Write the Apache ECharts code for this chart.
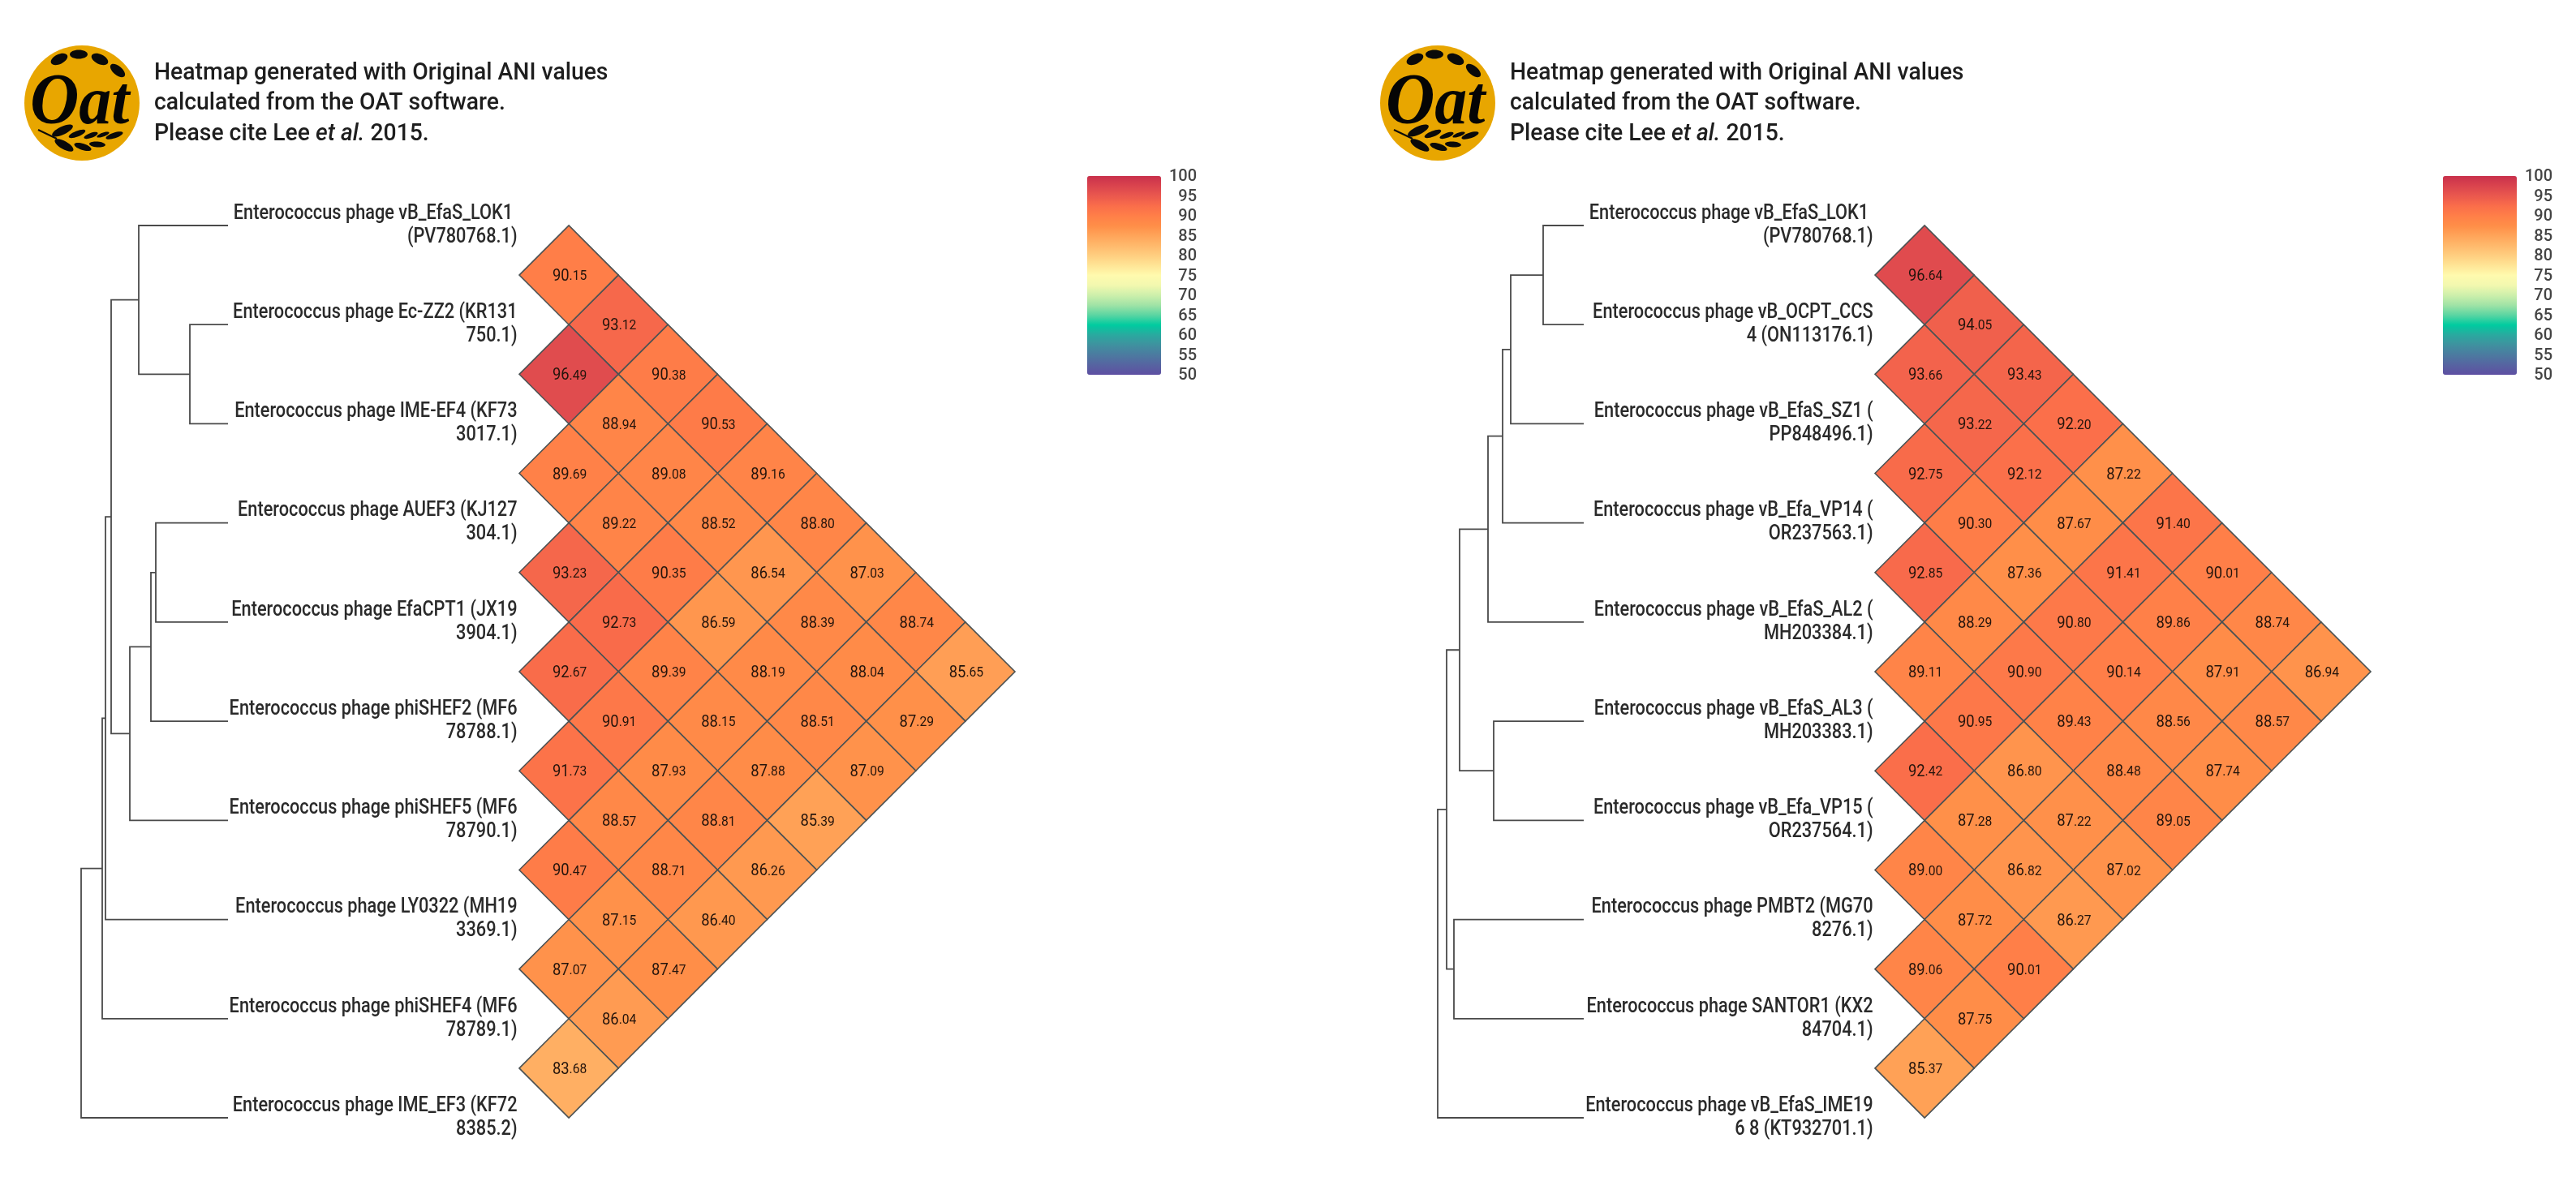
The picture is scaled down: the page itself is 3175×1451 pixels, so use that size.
<!DOCTYPE html>
<html>
<head>
<meta charset="utf-8">
<style>html,body{margin:0;padding:0;background:#fff}#c{width:3175px;height:1451px}</style>
<script src="https://cdn.jsdelivr.net/npm/echarts@6/dist/echarts.min.js"></script>
</head>
<body>
<div id="c"></div>
<script>
// ---- data ----
const taxaLeft = [
  "Enterococcus phage vB_EfaS_LOK1 \n(PV780768.1)",
  "Enterococcus phage Ec-ZZ2 (KR131\n750.1)",
  "Enterococcus phage IME-EF4 (KF73\n3017.1)",
  "Enterococcus phage AUEF3 (KJ127\n304.1)",
  "Enterococcus phage EfaCPT1 (JX19\n3904.1)",
  "Enterococcus phage phiSHEF2 (MF6\n78788.1)",
  "Enterococcus phage phiSHEF5 (MF6\n78790.1)",
  "Enterococcus phage LY0322 (MH19\n3369.1)",
  "Enterococcus phage phiSHEF4 (MF6\n78789.1)",
  "Enterococcus phage IME_EF3 (KF72\n8385.2)"
];
const taxaRight = [
  "Enterococcus phage vB_EfaS_LOK1 \n(PV780768.1)",
  "Enterococcus phage vB_OCPT_CCS\n4 (ON113176.1)",
  "Enterococcus phage vB_EfaS_SZ1 (\nPP848496.1)",
  "Enterococcus phage vB_Efa_VP14 (\nOR237563.1)",
  "Enterococcus phage vB_EfaS_AL2 (\nMH203384.1)",
  "Enterococcus phage vB_EfaS_AL3 (\nMH203383.1)",
  "Enterococcus phage vB_Efa_VP15 (\nOR237564.1)",
  "Enterococcus phage PMBT2 (MG70\n8276.1)",
  "Enterococcus phage SANTOR1 (KX2\n84704.1)",
  "Enterococcus phage vB_EfaS_IME19\n6 8 (KT932701.1)"
];
// aniX[j-1][i] = ANI between taxon i and taxon j (i < j)
const aniLeft = [
  [90.15],
  [93.12, 96.49],
  [90.38, 88.94, 89.69],
  [90.53, 89.08, 89.22, 93.23],
  [89.16, 88.52, 90.35, 92.73, 92.67],
  [88.80, 86.54, 86.59, 89.39, 90.91, 91.73],
  [87.03, 88.39, 88.19, 88.15, 87.93, 88.57, 90.47],
  [88.74, 88.04, 88.51, 87.88, 88.81, 88.71, 87.15, 87.07],
  [85.65, 87.29, 87.09, 85.39, 86.26, 86.40, 87.47, 86.04, 83.68]
];
const aniRight = [
  [96.64],
  [94.05, 93.66],
  [93.43, 93.22, 92.75],
  [92.20, 92.12, 90.30, 92.85],
  [87.22, 87.67, 87.36, 88.29, 89.11],
  [91.40, 91.41, 90.80, 90.90, 90.95, 92.42],
  [90.01, 89.86, 90.14, 89.43, 86.80, 87.28, 89.00],
  [88.74, 87.91, 88.56, 88.48, 87.22, 86.82, 87.72, 89.06],
  [86.94, 88.57, 87.74, 89.05, 87.02, 86.27, 90.01, 87.75, 85.37]
];
// tree merges: [childA, childB, height]; child >= 0 is a taxon, child < 0 is merge number -(child+1)
const treeLeft = [
  [1, 2, 4.7], [0, -1, 11.0], [3, 4, 8.9], [-3, 5, 9.5], [-4, 6, 12.1],
  [-2, -5, 14.4], [-6, 7, 15.1], [-7, 8, 15.5], [-8, 9, 18.1]
];
const treeRight = [
  [0, 1, 5.0], [-1, 2, 9.0], [-2, 3, 10.0], [-3, 4, 11.8], [5, 6, 11.1],
  [-4, -5, 15.3], [7, 8, 16.0], [-6, -7, 16.9], [-8, 9, 18.0]
];
const scaleTicks = [50, 100, 5];
const scaleColors = ['#5E4FA2','#5664A1','#4C7AA0','#3F919F','#2AA99F','#00CBA0','#5AD5A2','#A0E3A6','#CDEFAB','#F2F8AF',
  '#FFFAAE','#FFE596','#FFCE80','#FFB96C','#FFA459','#FF8E48','#FF7F48','#FA6D4A','#EA584E','#DA444E','#C9304B'];

// ---- layout ----
const panelOffsets = [0, 1671];
const LABEL_SX = 0.87, CELL_SX = 0.92, HEAD_SX = 0.945;

function cellData(ani) {
  const out = [];
  ani.forEach((row, k) => row.forEach((v, i) => {
    const j = k + 1;
    out.push([j - i - 1, (i + j) / 2, v]);
  }));
  return out;
}
function treeData(tree) {
  const nodes = [];
  const out = [];
  const pos = c => c >= 0 ? [0, c] : nodes[-c - 1];
  tree.forEach(m => {
    const a = pos(m[0]), b = pos(m[1]);
    out.push([a[0], a[1], m[2], b[1], b[0]]);
    nodes.push([m[2], (a[1] + b[1]) / 2]);
  });
  return out;
}
function renderCell(params, api) {
  const c = api.value(0), r = api.value(1), v = api.value(2);
  const pts = [[c - 1, r], [c, r - 0.5], [c + 1, r], [c, r + 0.5]].map(p => api.coord(p));
  const ctr = api.coord([c, r]);
  const parts = v.toFixed(2).split('.');
  return {
    type: 'group',
    children: [
      { type: 'polygon', shape: { points: pts },
        style: { fill: api.visual('color'), stroke: '#4c5253', lineWidth: 1.6 } },
      { type: 'text', x: ctr[0] + 1, y: ctr[1] + 2, scaleX: CELL_SX, z2: 5,
        style: { text: '{a|' + parts[0] + '}{b|.' + parts[1] + '}', align: 'center', verticalAlign: 'middle',
          fill: '#24140c',
          rich: { a: { fontFamily: 'Roboto', fontSize: 20, fill: '#24140c' },
                  b: { fontFamily: 'Roboto', fontSize: 17, fill: '#24140c' } } } }
    ]
  };
}
function renderTree(params, api) {
  const a = api.coord([api.value(0), api.value(1)]);
  const m1 = api.coord([api.value(2), api.value(1)]);
  const m2 = api.coord([api.value(2), api.value(3)]);
  const b = api.coord([api.value(4), api.value(3)]);
  return { type: 'polyline', shape: { points: [a, m1, m2, b] },
    style: { fill: 'none', stroke: '#4a4a4a', lineWidth: 1.8 } };
}
function taxaRenderer(names) {
  return function (params, api) {
    const k = api.value(0);
    const p = api.coord([-1.04, k]);
    return { type: 'text', x: p[0], y: p[1], scaleX: LABEL_SX,
      style: { text: names[k], align: 'right', verticalAlign: 'middle', fontFamily: 'Roboto', fontWeight: 500, fontSize: 25,
        lineHeight: 29, fill: '#2a2a2a' } };
  };
}

// ---- logo + header (decoration) ----
const logoLeaves = [
  [73,73,11,6,25],[97,67,11,5.5,0],[123,73,11,6,-25],[145,87,11,5.5,-40],
  [77,161,14,5,25],[95,165,11,3.5,22],[112,167,9,3,20],[127,166,8,2.5,20],[141,167,11,3.5,18],
  [79,179,13,5,-30],[102,181,11,4,-18],[120,178,10,3.5,-5]
];
function headerGraphics(dx) {
  const g = [];
  g.push({ type: 'ellipse', shape: { cx: 101 + dx, cy: 127, rx: 71, ry: 71 }, style: { fill: '#E8A600' } });
  logoLeaves.forEach(l => g.push({ type: 'ellipse', x: l[0] + dx, y: l[1], rotation: l[4] * Math.PI / 180,
    shape: { cx: 0, cy: 0, rx: l[2], ry: l[3] }, style: { fill: '#0a0a0a' } }));
  g.push({ type: 'line', shape: { x1: 47 + dx, y1: 160, x2: 70 + dx, y2: 171 }, style: { stroke: '#0a0a0a', lineWidth: 2 } });
  g.push({ type: 'text', x: 37 + dx, y: 172, scaleX: 0.95, style: {
    text: '{o|O}{t|at}', align: 'left', verticalAlign: 'bottom', fill: '#050505',
    rich: { o: { fontFamily: 'Liberation Serif', fontStyle: 'italic', fontWeight: 'bold', fontSize: 88, fill: '#050505', verticalAlign: 'bottom' },
            t: { fontFamily: 'Liberation Serif', fontStyle: 'italic', fontWeight: 'bold', fontSize: 84, fill: '#050505', verticalAlign: 'bottom' } } } });
  const lines = ['Heatmap generated with Original ANI values', 'calculated from the OAT software.', 'Please cite Lee {i|et al.} 2015.'];
  lines.forEach((t, n) => g.push({ type: 'text', x: 190 + dx, y: 90 + n * 37.5, scaleX: HEAD_SX, style: {
    text: t, align: 'left', verticalAlign: 'middle', fontFamily: 'Roboto', fontWeight: 500, fontSize: 30, fill: '#1e1e1e',
    rich: { i: { fontFamily: 'Roboto', fontStyle: 'italic', fontWeight: 500, fontSize: 30, fill: '#1e1e1e' } } } }));
  return g;
}

// ---- option ----
const grids = [], xAxes = [], yAxes = [], seriesList = [], visualMaps = [];
const treeTop = 278, treeH = 1100;
[[taxaLeft, aniLeft, treeLeft], [taxaRight, aniRight, treeRight]].forEach((p, n) => {
  const dx = panelOffsets[n];
  const base = grids.length;
  // tree grid
  grids.push({ left: 81 + dx, top: treeTop, width: 200, height: treeH });
  xAxes.push({ type: 'value', gridIndex: base, min: 0, max: 20, inverse: true, show: false });
  yAxes.push({ type: 'value', gridIndex: base, min: 0, max: 9, inverse: true, show: false });
  // heat grid
  grids.push({ left: 640 + dx, top: treeTop, width: 611, height: treeH });
  xAxes.push({ type: 'value', gridIndex: base + 1, min: -1, max: 9, show: false });
  yAxes.push({ type: 'value', gridIndex: base + 1, min: 0, max: 9, inverse: true, show: false });
  // colour-bar tick axis
  grids.push({ left: 1340 + dx, top: 218, width: 91, height: 245 });
  xAxes.push({ type: 'value', gridIndex: base + 2, min: 0, max: 1, show: false });
  yAxes.push({ type: 'value', gridIndex: base + 2, min: scaleTicks[0], max: scaleTicks[1], interval: scaleTicks[2],
    position: 'right', axisLine: { show: false }, axisTick: { show: false }, splitLine: { show: false },
    axisLabel: { show: true, align: 'right', margin: 44, fontFamily: 'Roboto', fontWeight: 500, fontSize: 20, color: '#444', showMinLabel: true, showMaxLabel: true } });

  seriesList.push({ type: 'custom', name: 'tree' + n, xAxisIndex: base, yAxisIndex: base, silent: true, clip: false,
    coordinateSystem: 'cartesian2d', data: treeData(p[2]), renderItem: renderTree, animation: false });
  const cellIdx = seriesList.length;
  seriesList.push({ type: 'custom', name: 'ani' + n, xAxisIndex: base + 1, yAxisIndex: base + 1, silent: true, clip: false,
    coordinateSystem: 'cartesian2d', data: cellData(p[1]), renderItem: renderCell, animation: false,
    encode: { x: 0, y: 1 } });
  seriesList.push({ type: 'custom', name: 'taxa' + n, xAxisIndex: base + 1, yAxisIndex: base + 1, silent: true, clip: false,
    coordinateSystem: 'cartesian2d', data: p[0].map((_, k) => [k]), renderItem: taxaRenderer(p[0]), animation: false });
  visualMaps.push({ type: 'continuous', min: scaleTicks[0], max: scaleTicks[1], seriesIndex: cellIdx, dimension: 2,
    left: 1340 + dx, top: 217, itemWidth: 91, itemHeight: 245, calculable: false, realtime: false, hoverLink: false,
    padding: 0, text: null, showLabel: false, inRange: { color: scaleColors } });
});

const chart = echarts.init(document.getElementById('c'), null, { renderer: 'canvas' });
chart.setOption({
  backgroundColor: '#ffffff',
  animation: false,
  grid: grids, xAxis: xAxes, yAxis: yAxes, visualMap: visualMaps, series: seriesList,
  graphic: { elements: panelOffsets.flatMap(headerGraphics) }
});
</script>
</body>
</html>
